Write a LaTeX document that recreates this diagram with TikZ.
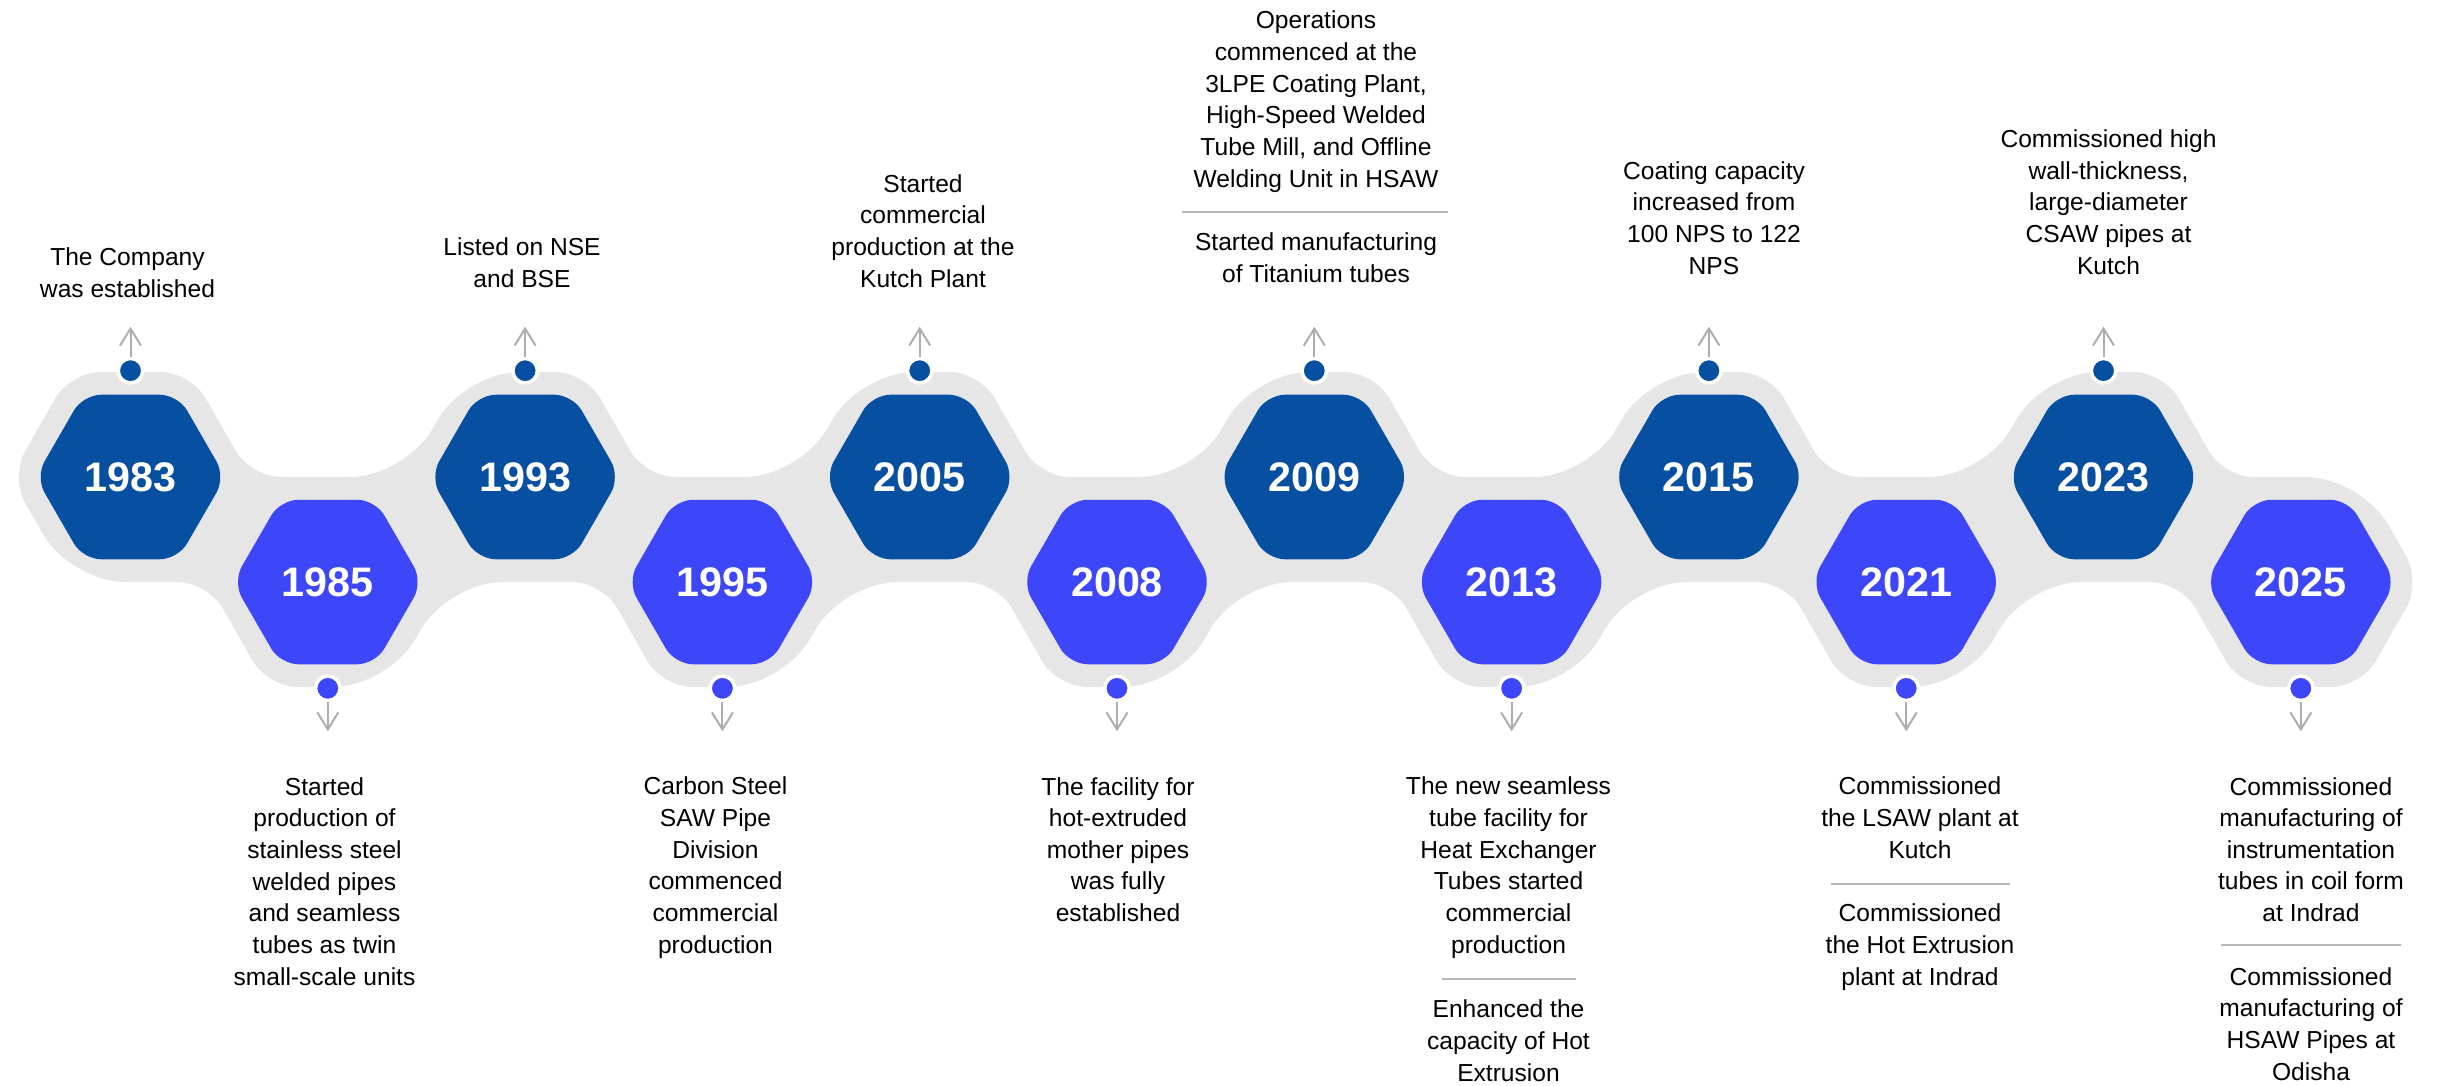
\documentclass[tikz,border=0pt]{standalone}
\usepackage{fontspec}
\setmainfont{Liberation Sans}
\usetikzlibrary{arrows.meta, shapes.geometric}

\definecolor{yeardark}{HTML}{074FA1}
\definecolor{yearlight}{HTML}{3E46FA}
\definecolor{bandgray}{HTML}{E6E6E6}
\definecolor{arrowgray}{HTML}{ADADAD}
\definecolor{rulegray}{HTML}{B8B8B8}

% x position of the i-th year (0 = 1983)
\newcommand\hx[1]{(130.5+197.3*(#1))}

\begin{document}
\begin{tikzpicture}[
    x=0.02cm, y=-0.02cm,
    convex/.style = {rounded corners=0.6cm},
    concave/.style = {rounded corners=1.1cm},
    hexup/.style = {regular polygon, regular polygon sides=6, minimum size=3.8cm, inner sep=0pt, rounded corners=0.36cm, fill=yeardark, text=white, font=\fontsize{23.5}{28}\selectfont\bfseries},
    hexdown/.style = {hexup, fill=yearlight},
    dotup/.style = {circle, draw=white, line width=2pt, fill=yeardark, minimum size=0.49cm, inner sep=0pt},
    dotdown/.style = {dotup, fill=yearlight},
    arr/.style = {draw=arrowgray, line width=0.04cm, -{Straight Barb[length=0.34cm, width=0.42cm]}},
    note/.style = {align=center, anchor=base, inner sep=0pt, font=\fontsize{14}{18}\selectfont},
    rulesep/.style = {draw=rulegray, line width=0.03cm},
]
    \useasboundingbox (0,0) rectangle (2437,1085);

    % grey ribbon behind the hexagons
    \fill[bandgray] ({\hx{0}},372) [convex] -- ({\hx{0}+60.1},372) -- ({\hx{0}+120.2},477) [concave] -- ({\hx{2}-120.2},477)
        \foreach \i in {2,4,6,8} { -- ({\hx{\i}-60.1},372) [convex] -- ({\hx{\i}+60.1},372) -- ({\hx{\i}+120.2},477) [concave] -- ({\hx{\i+2}-120.2},477) }
        -- ({\hx{10}-60.1},372) [convex] -- ({\hx{10}+60.1},372) -- ({\hx{10}+120.2},477) [concave] -- ({\hx{11}+60.1},477)
        [convex] -- ({\hx{11}+120.2},582) -- ({\hx{11}+60.1},687) -- ({\hx{11}-60.1},687) -- ({\hx{11}-120.2},582) [concave]
        \foreach \i in {9,7,5,3,1} { -- ({\hx{\i}+120.2},582) -- ({\hx{\i}+60.1},687) [convex] -- ({\hx{\i}-60.1},687) -- ({\hx{\i}-120.2},582) [concave] }
        -- ({\hx{0}-60.1},582) [convex] -- ({\hx{0}-120.2},477) -- ({\hx{0}-60.1},372) -- cycle;

    % years on top row
    \foreach \yr [count=\k from 0] in {1983,1993,2005,2009,2015,2023} {
        \node[hexup] (h\yr) at ({\hx{2*\k}},477) {\yr};
        \node[dotup] (d\yr) at ([yshift=0.474cm]h\yr.north) {};
        \coordinate (a\yr) at ([yshift=0.88cm]d\yr.center);
        \draw[arr] (d\yr) -- (a\yr);
    }
    % years on bottom row
    \foreach \yr [count=\k from 0] in {1985,1995,2008,2013,2021,2025} {
        \node[hexdown] (h\yr) at ({\hx{2*\k+1}},582) {\yr};
        \node[dotdown] (d\yr) at ([yshift=-0.474cm]h\yr.south) {};
        \coordinate (a\yr) at ([yshift=-0.86cm]d\yr.center);
        \draw[arr] (d\yr) -- (a\yr);
    }

    % texts above (placed at the baseline of their last line)
    \node[note] (t1983) at (127.5,297) {The Company\\was established};
    \node[note] (t1993) at (522,287) {Listed on NSE\\and BSE};
    \node[note] (t2005) at (923,287) {Started\\commercial\\production at the\\Kutch Plant};
    \node[note] (t2009a) at (1316,187) {Operations\\commenced at the\\3LPE Coating Plant,\\High-Speed Welded\\Tube Mill, and Offline\\Welding Unit in HSAW};
    \node[note] (t2009b) at (1316,282) {Started manufacturing\\of Titanium tubes};
    \node[note] (t2015) at (1714,274) {Coating capacity\\increased from\\100 NPS to 122\\NPS};
    \node[note] (t2023) at (2108.5,274) {Commissioned high\\wall-thickness,\\large-diameter\\CSAW pipes at\\Kutch};
    \draw[rulesep] (1182,212) -- (1448,212);

    % texts below
    \node[note] (t1985) at (324.5,985) {Started\\production of\\stainless steel\\welded pipes\\and seamless\\tubes as twin\\small-scale units};
    \node[note] (t1995) at (715.5,953) {Carbon Steel\\SAW Pipe\\Division\\commenced\\commercial\\production};
    \node[note] (t2008) at (1118,921.5) {The facility for\\hot-extruded\\mother pipes\\was fully\\established};
    \node[note] (t2013a) at (1508.5,953) {The new seamless\\tube facility for\\Heat Exchanger\\Tubes started\\commercial\\production};
    \node[note] (t2013b) at (1508.5,1081) {Enhanced the\\capacity of Hot\\Extrusion};
    \node[note] (t2021a) at (1920,858) {Commissioned\\the LSAW plant at\\Kutch};
    \node[note] (t2021b) at (1920,985) {Commissioned\\the Hot Extrusion\\plant at Indrad};
    \node[note] (t2025a) at (2311,921.5) {Commissioned\\manufacturing of\\instrumentation\\tubes in coil form\\at Indrad};
    \node[note] (t2025b) at (2311,1080) {Commissioned\\manufacturing of\\HSAW Pipes at\\Odisha};
    \draw[rulesep] (1442,979) -- (1576,979);
    \draw[rulesep] (1831,884) -- (2010,884);
    \draw[rulesep] (2221,945) -- (2401,945);
\end{tikzpicture}
\end{document}
